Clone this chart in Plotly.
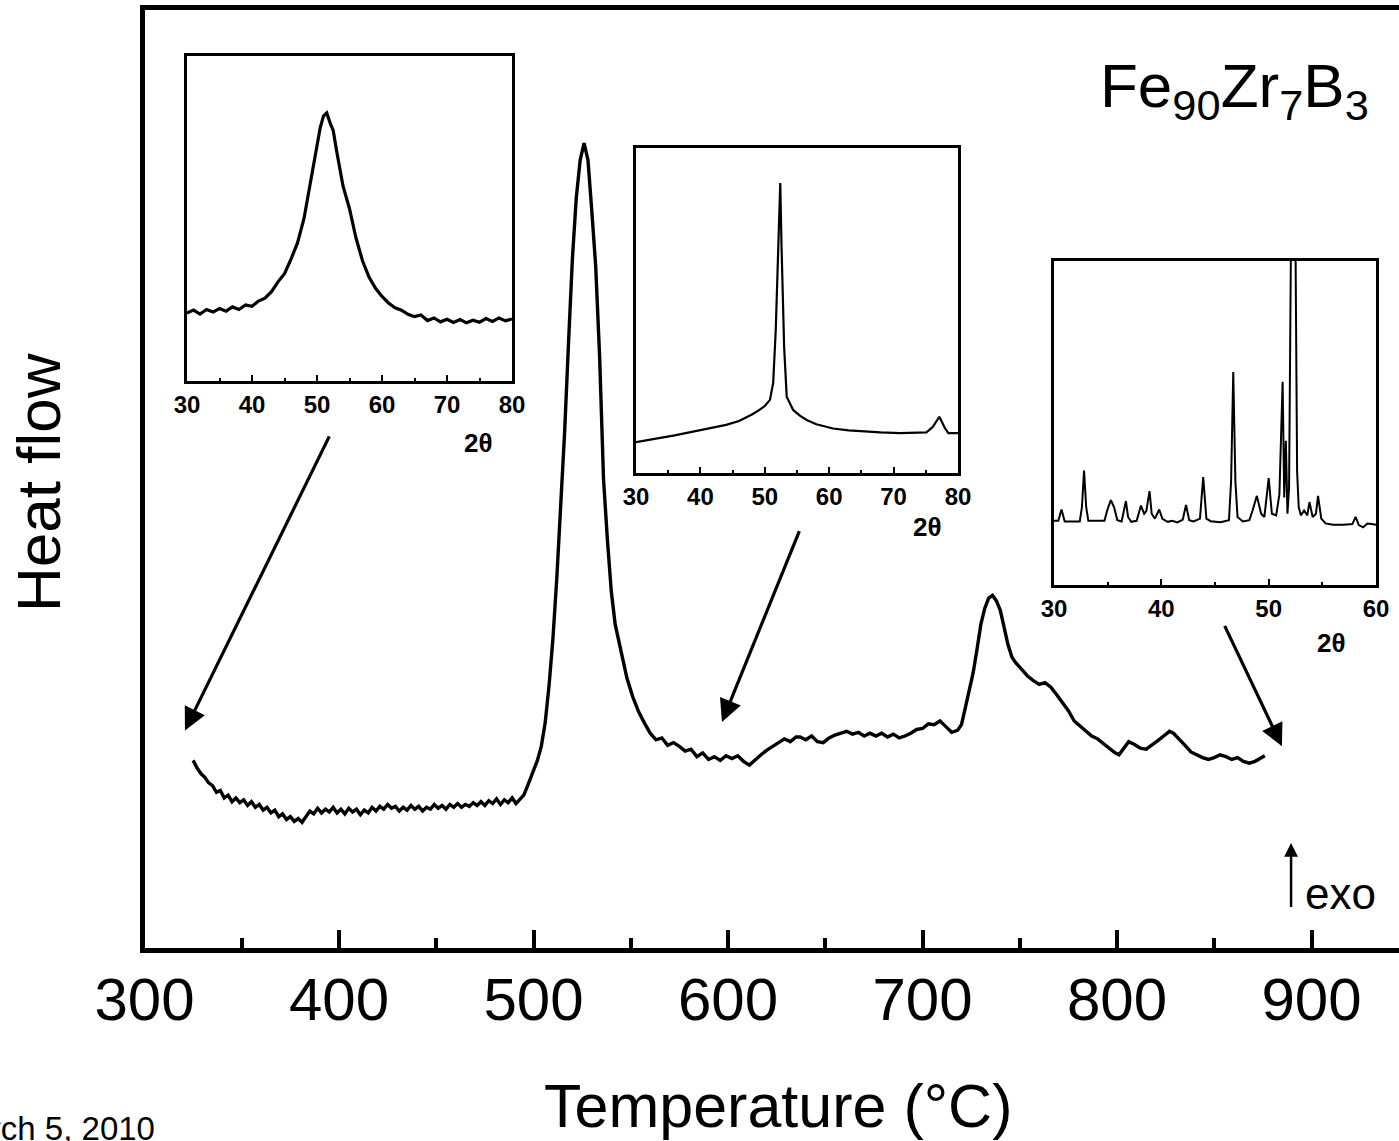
import plotly.graph_objects as go

# ---------------- data ----------------
# Main DSC trace: temperature (°C) and heat flow (arbitrary units, 0-100 of plot height)
dsc_temp = [
    325, 327, 329, 331, 333, 335, 337, 339, 341, 343, 345, 347, 349, 351, 353, 355, 357, 359,
    361, 363, 365, 367, 369, 371, 373, 375, 377, 379, 381, 383, 385, 387, 389, 391, 393, 395,
    397, 399, 401, 403, 405, 407, 409, 411, 413, 415, 417, 419, 421, 423, 425, 427, 429, 431,
    433, 435, 437, 439, 441, 443, 445, 447, 449, 451, 453, 455, 457, 459, 461, 463, 465, 467,
    469, 471, 473, 475, 477, 479, 481, 483, 485, 487, 489, 491, 493, 495, 497,
    500, 502, 504, 506, 508, 510, 512, 514, 516, 518, 520, 522, 524, 526, 528, 530, 532, 534,
    536, 538, 540, 542, 545, 548, 551, 554, 557, 560, 563, 566, 569, 572, 575, 578, 581, 584,
    587, 590, 593, 596, 599, 602, 605, 608, 611, 614, 617, 620, 623, 626, 629, 632, 635,
    637, 640, 643, 646, 649, 652, 655, 658, 661, 664, 667, 670, 673, 676, 679, 682, 685, 688,
    691, 694, 697, 700, 703, 706, 709, 712, 715, 718, 720, 722, 724, 726, 728, 730, 732, 734,
    736, 738, 740, 742, 744, 746, 748, 751, 754, 757, 760, 763, 766, 769, 772, 775, 778, 781,
    784, 787, 790, 793, 796, 799, 801, 803, 806, 809, 812, 815, 818, 821, 824, 827, 829, 832,
    835, 838, 841, 844, 847, 850, 853, 856, 859, 862, 865, 868, 871, 874, 876,
]
dsc_heat = [
    20.0, 19.2, 18.6, 18.2, 17.6, 17.3, 16.6, 16.8, 16.0, 16.3, 15.6, 16.0, 15.5, 15.8, 15.2, 15.6, 15.0, 15.3,
    14.7, 15.0, 14.4, 14.7, 14.0, 14.3, 13.7, 14.0, 13.5, 13.8, 13.4, 14.0, 14.6, 14.3, 14.9, 14.4, 14.8, 14.5,
    15.0, 14.4, 14.8, 14.3, 14.9, 14.5, 14.8, 14.2, 14.7, 14.4, 15.0, 14.6, 15.1, 14.8, 15.3, 14.9, 15.1, 14.6,
    15.0, 14.7, 15.2, 14.8, 15.1, 14.6, 15.0, 14.8, 15.3, 14.9, 15.2, 14.8, 15.3, 15.0, 15.4, 15.0, 15.3, 15.1,
    15.5, 15.2, 15.6, 15.2, 15.7, 15.4, 15.9, 15.3, 15.8, 15.5, 16.0, 15.4, 15.9, 16.3, 17.3,
    18.9, 20.0, 21.5, 24.0, 28.0, 33.0, 39.5, 47.0, 55.0, 64.5, 73.5, 80.0, 84.0, 85.8, 84.0, 78.5, 72.6, 63.0,
    50.0, 43.5, 38.0, 34.5, 31.5, 28.8, 26.8, 25.2, 24.0, 22.9, 22.2, 22.4, 21.6, 21.9, 21.5, 21.0, 21.2, 20.4,
    20.8, 20.1, 20.4, 20.0, 20.5, 20.2, 20.5, 19.9, 19.5, 20.1, 20.6, 21.1, 21.5, 21.8, 22.3, 22.0, 22.5,
    22.5, 22.2, 22.6, 22.0, 21.9, 22.4, 22.7, 22.9, 23.1, 22.8, 23.0, 22.6, 22.9, 22.6, 22.9, 22.5, 22.8, 22.4,
    22.6, 22.9, 23.3, 23.4, 23.9, 23.8, 24.2, 23.6, 23.0, 23.2, 23.8, 25.6, 27.3, 29.3, 31.8, 34.5, 36.2, 37.3,
    37.6, 37.0, 36.0, 34.2, 32.3, 31.0, 30.4, 29.7, 29.0, 28.5, 28.1, 28.3, 27.8, 27.0, 26.2, 25.3, 24.2, 23.7,
    23.1, 22.6, 22.3, 21.8, 21.4, 20.8, 20.6, 21.2, 22.0, 21.7, 21.3, 21.2, 21.6, 22.1, 22.6, 23.1, 22.9, 22.3,
    21.6, 20.9, 20.6, 20.3, 20.1, 20.3, 20.6, 20.4, 20.1, 20.3, 19.9, 19.7, 19.9, 20.3, 20.5,
]

# Inset 1: XRD of the as-quenched (amorphous) sample
xrd1_2theta = [30, 31, 32, 33, 34, 35, 36, 37, 38, 39, 40, 41, 42, 43, 44, 45, 46, 47, 48, 49, 50, 50.5,
               51, 51.5, 52, 52.5, 53, 54, 55, 56, 57, 58, 59, 60, 61, 62, 63, 64, 65, 66, 67, 68, 69,
               70, 71, 72, 73, 74, 75, 76, 77, 78, 79, 80]
xrd1_int = [20.9, 21.8, 20.6, 22.0, 21.2, 22.3, 21.5, 22.8, 22.0, 23.4, 23.0, 24.6, 25.5, 27.5, 30.5, 33.0,
            37.5, 42.5, 50.0, 61.0, 73.0, 78.0, 81.5, 82.5, 79.5, 77.0, 71.0, 60.0, 53.0, 44.0, 37.0, 32.0,
            28.5, 26.0, 24.0, 22.5, 21.8, 20.5, 19.8, 20.3, 18.6, 19.4, 18.2, 19.0, 18.0, 18.9, 17.9, 18.7,
            18.1, 19.2, 18.3, 19.4, 18.5, 19.1]

# Inset 2: XRD after the first crystallisation peak
xrd2_2theta = [30, 32, 34, 36, 38, 40, 42, 44, 46, 47, 48, 49, 50, 50.8, 51.3, 51.7, 52.1, 52.4, 52.6,
               53.0, 53.4, 54.4, 55.5, 56.5, 58, 60.6, 63, 65.8, 68, 71, 74, 75.1, 76.1, 77.1, 78, 78.5, 80]
xrd2_int = [9.5, 10.3, 10.9, 11.6, 12.4, 13.2, 14.0, 14.8, 16.0, 16.9, 18.0, 19.2, 20.6, 22.5, 27.7, 44.0,
            74.8, 89.2, 69.6, 38.9, 23.5, 19.4, 17.6, 16.3, 15.0, 13.7, 13.1, 12.7, 12.5, 12.3, 12.3, 12.5,
            14.2, 17.3, 13.7, 12.3, 12.3]

# Inset 3: XRD after the second crystallisation peak
xrd3_2theta = [30, 30.4, 30.7, 31.0, 32.4, 32.6, 32.8, 33.0, 33.2, 34.7, 35.0, 35.3, 35.6, 35.9, 36.3,
               36.5, 36.7, 36.9, 37.2, 37.7, 37.9, 38.1, 38.4, 38.6, 38.9, 39.1, 39.4, 39.8, 40.1, 40.6,
               41.0, 41.5, 42.0, 42.3, 42.6, 43.0, 43.6, 43.9, 44.2, 44.6, 45.5, 46.3, 46.5, 46.7, 46.9,
               47.1, 47.6, 48.2, 48.5, 48.9, 49.3, 49.6, 50.0, 50.3, 50.7, 51.0, 51.3, 51.45, 51.6, 51.75,
               51.9, 52.3, 52.65, 52.8, 53.0, 53.3, 53.6, 53.8, 54.1, 54.4, 54.6, 54.9, 55.3, 56.0, 57.0,
               57.8, 58.1, 58.4, 58.8, 59.2, 59.6, 60.0]
xrd3_int = [19.8, 19.8, 23.3, 19.6, 19.6, 24.0, 35.3, 24.0, 19.8, 19.8, 23.5, 26.2, 24.0, 20.0, 19.6,
            23.0, 25.9, 21.0, 19.5, 19.8, 22.5, 24.5, 22.0, 22.8, 29.0, 22.0, 20.5, 23.3, 20.4, 19.5,
            19.8, 19.3, 20.2, 24.7, 20.0, 19.6, 20.5, 33.3, 20.5, 19.7, 19.4, 20.0, 32.0, 65.7, 32.0,
            21.0, 19.6, 20.0, 23.0, 27.5, 22.0, 21.0, 33.0, 22.0, 21.5, 28.0, 62.7, 27.0, 44.5, 22.0,
            30.0, 200.0, 35.0, 24.0, 21.5, 23.0, 21.5, 25.6, 21.0, 22.0, 27.5, 20.5, 19.0, 18.6, 18.6,
            18.8, 21.0, 18.5, 17.8, 19.0, 18.8, 18.6]

main_ticks = [300, 400, 500, 600, 700, 800, 900]
inset12_ticks = [30, 40, 50, 60, 70, 80]
inset3_ticks = [30, 40, 50, 60]

# arrows: (head T, head value, tail T, tail value) in main-axis data units
arrow_heads_T = [320.8, 596.9, 884.8]
arrow_heads_v = [23.2, 24.1, 21.5]
arrow_tails_T = [395.4, 637.0, 855.0]
arrow_tails_v = [54.7, 44.6, 34.5]

# ---------------- layout helpers ----------------
W, H = 1399, 1141
FONT = "Liberation Sans, Arial, sans-serif"


def fx(p):
    return p / W


def fy(p):
    return 1 - p / H


fig = go.Figure()

fig.add_trace(go.Scatter(x=dsc_temp, y=dsc_heat, mode="lines",
                         line=dict(color="black", width=3.4), xaxis="x", yaxis="y",
                         showlegend=False, hoverinfo="skip"))
fig.add_trace(go.Scatter(x=xrd1_2theta, y=xrd1_int, mode="lines",
                         line=dict(color="black", width=3.2), xaxis="x2", yaxis="y2",
                         showlegend=False, hoverinfo="skip"))
fig.add_trace(go.Scatter(x=xrd2_2theta, y=xrd2_int, mode="lines",
                         line=dict(color="black", width=2.2), xaxis="x3", yaxis="y3",
                         showlegend=False, hoverinfo="skip"))
fig.add_trace(go.Scatter(x=xrd3_2theta, y=xrd3_int, mode="lines",
                         line=dict(color="black", width=2.0), xaxis="x4", yaxis="y4",
                         showlegend=False, hoverinfo="skip"))

px_per_deg = 1.945
x_left_px = 144.5
main_xmax = 300 + (W - x_left_px) / px_per_deg

main_x = dict(domain=[fx(x_left_px), 1.0], range=[300, main_xmax], anchor="y",
              automargin=False,
              showline=True, linewidth=5, linecolor="black", mirror=True,
              ticks="inside", ticklen=18, tickwidth=3.5, tickcolor="black",
              tickvals=main_ticks, ticktext=[str(v) for v in main_ticks],
              tickfont=dict(family=FONT, size=60, color="black"),
              ticklabelstandoff=-5,
              minor=dict(ticks="inside", ticklen=10, tickwidth=3.5, tickcolor="black", dtick=50,
                         tick0=300, showgrid=False),
              showgrid=False, zeroline=False, fixedrange=True)
main_y = dict(domain=[fy(948), fy(10)], range=[0, 100], anchor="x", automargin=False,
              showline=True, linewidth=5, linecolor="black", mirror=False,
              ticks="", showticklabels=False, showgrid=False, zeroline=False)


def inset_axes(x0, x1, y_top, y_bot, xr, ticks, xa, ya):
    xd = dict(domain=[fx(x0), fx(x1)], range=xr, anchor=ya, automargin=False,
              showline=True, linewidth=2.5, linecolor="black", mirror=True,
              ticks="inside", ticklen=6, tickwidth=2, tickcolor="black",
              tickvals=ticks, ticktext=[str(v) for v in ticks],
              tickfont=dict(family=FONT, size=24, color="black", weight="bold"),
              ticklabelstandoff=0,
              minor=dict(ticks="inside", ticklen=3, tickwidth=1.5, tickcolor="black",
                         dtick=5, tick0=30),
              showgrid=False, zeroline=False)
    yd = dict(domain=[fy(y_bot), fy(y_top)], range=[0, 100], anchor=xa, automargin=False,
              showline=True, linewidth=2.5, linecolor="black", mirror=True,
              ticks="", showticklabels=False, showgrid=False, zeroline=False)
    return xd, yd


x2, y2 = inset_axes(187, 512, 56, 381, [30, 80], inset12_ticks, "x2", "y2")
x3, y3 = inset_axes(636, 958, 148, 473, [30, 80], inset12_ticks, "x3", "y3")
x4, y4 = inset_axes(1054, 1376, 261, 585, [30, 60], inset3_ticks, "x4", "y4")

annotations = []
# axis titles
annotations.append(dict(text="Temperature (°C)", x=fx(778), y=fy(1106), xref="paper", yref="paper",
                        showarrow=False, xanchor="center", yanchor="middle",
                        font=dict(family=FONT, size=61, color="black")))
annotations.append(dict(text="Heat flow", x=fx(38), y=fy(483), xref="paper", yref="paper",
                        showarrow=False, xanchor="center", yanchor="middle", textangle=-90,
                        font=dict(family=FONT, size=62, color="black")))
# composition label
annotations.append(dict(text="Fe<sub>90</sub>Zr<sub>7</sub>B<sub>3</sub>", x=fx(1098), y=fy(90),
                        xref="paper", yref="paper", showarrow=False, xanchor="left", yanchor="middle",
                        font=dict(family=FONT, size=62, color="black")))
# 2θ labels
for (cx, cy) in [(479, 443), (927, 527), (1331, 643)]:
    annotations.append(dict(text="2θ", x=fx(cx), y=fy(cy), xref="paper", yref="paper",
                            showarrow=False, xanchor="center", yanchor="middle",
                            font=dict(family=FONT, size=26, color="black", weight="bold")))
# exo marker
annotations.append(dict(text="", x=889.5, y=11.2, xref="x", yref="y", ax=889.5, ay=4.2,
                        axref="x", ayref="y", showarrow=True, arrowhead=2, arrowsize=1.1,
                        arrowwidth=2.5, arrowcolor="black"))
annotations.append(dict(text="exo", x=fx(1340), y=fy(893), xref="paper", yref="paper",
                        showarrow=False, xanchor="center", yanchor="middle",
                        font=dict(family=FONT, size=44, color="black")))
# arrows from insets to curve
for hT, hv, tT, tv in zip(arrow_heads_T, arrow_heads_v, arrow_tails_T, arrow_tails_v):
    annotations.append(dict(text="", x=hT, y=hv, xref="x", yref="y", ax=tT, ay=tv,
                            axref="x", ayref="y", showarrow=True, arrowhead=2, arrowsize=1.4,
                            arrowwidth=3.2, arrowcolor="black"))
# cut-off date footer (partly outside the page in the reference)
annotations.append(dict(text="March 5, 2010", x=fx(157), y=fy(1128), xref="paper", yref="paper",
                        showarrow=False, xanchor="right", yanchor="middle",
                        font=dict(family=FONT, size=33, color="black")))

fig.update_layout(
    width=W, height=H,
    margin=dict(l=0, r=0, t=0, b=0, autoexpand=False),
    paper_bgcolor="white", plot_bgcolor="white",
    showlegend=False,
    xaxis=main_x, yaxis=main_y,
    xaxis2=x2, yaxis2=y2,
    xaxis3=x3, yaxis3=y3,
    xaxis4=x4, yaxis4=y4,
    annotations=annotations,
)

fig.write_html("out.html")
